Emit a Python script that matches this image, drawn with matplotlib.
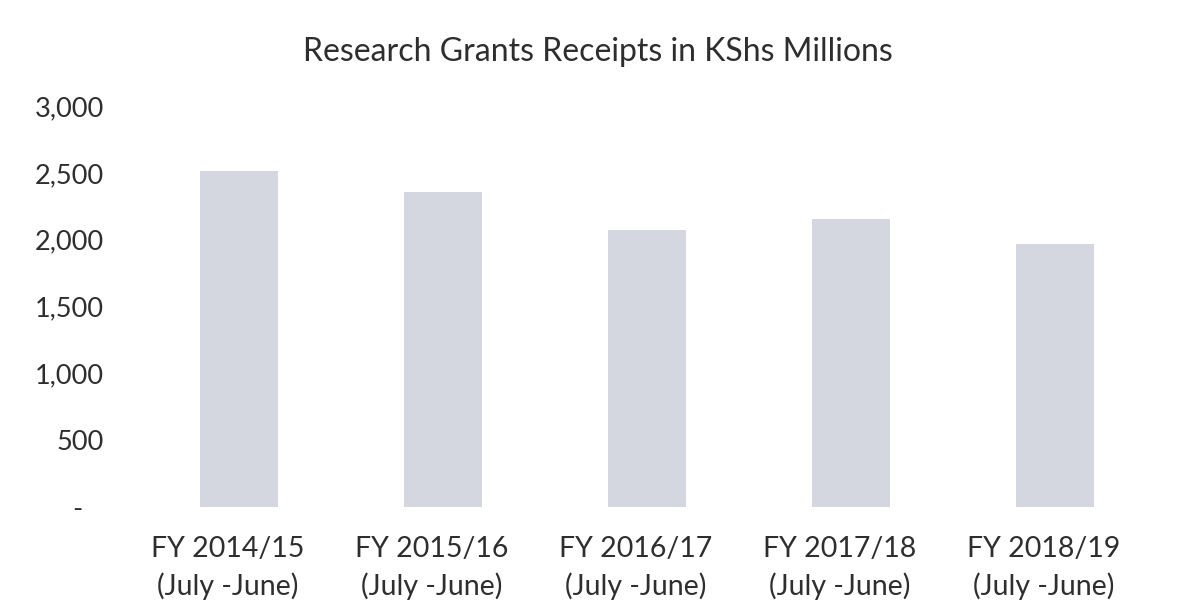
import matplotlib
matplotlib.use("Agg")
import matplotlib.pyplot as plt
import matplotlib.transforms as mtransforms
from matplotlib.ticker import FixedLocator

categories = ["FY 2014/15\n(July -June)", "FY 2015/16\n(July -June)", "FY 2016/17\n(July -June)",
              "FY 2017/18\n(July -June)", "FY 2018/19\n(July -June)"]
values = [2515, 2357, 2073, 2156, 1968]
y_ticks = [0, 500, 1000, 1500, 2000, 2500, 3000]
y_tick_labels = ["-   ", "500", "1,000", "1,500", "2,000", "2,500", "3,000"]
title = "Research Grants Receipts in KShs Millions"

plt.rcParams['font.family'] = ['Lato', 'DejaVu Sans']
text_color = "#2e2e2e"

fig = plt.figure(figsize=(11.89, 6.15), dpi=100)
ax = fig.add_axes([0.1152, 0.1756, 0.8579, 0.652])
x = range(len(categories))
ax.bar(x, values, width=0.38, color="#d5d7e0", edgecolor="none")
ax.set_xlim(-0.5, len(categories) - 0.5)
ax.set_ylim(0, 3000)
ax.yaxis.set_major_locator(FixedLocator(y_ticks))
ax.set_yticklabels(y_tick_labels)
ax.set_xticks(list(x))
ax.set_xticklabels(categories, linespacing=1.45)
for s in ax.spines.values():
    s.set_visible(False)
ax.tick_params(axis='both', length=0, colors=text_color)
ax.tick_params(axis='y', pad=24, labelsize=19.5)
ax.tick_params(axis='x', pad=21, labelsize=20.5)
offset = mtransforms.ScaledTranslation(-11 / 100, 0, fig.dpi_scale_trans)
for lbl in ax.get_xticklabels():
    lbl.set_transform(lbl.get_transform() + offset)
fig.text(0.503, 0.916, title, ha='center', va='center', fontsize=23, color=text_color)
fig.savefig("out.png", dpi=100, facecolor="white")
